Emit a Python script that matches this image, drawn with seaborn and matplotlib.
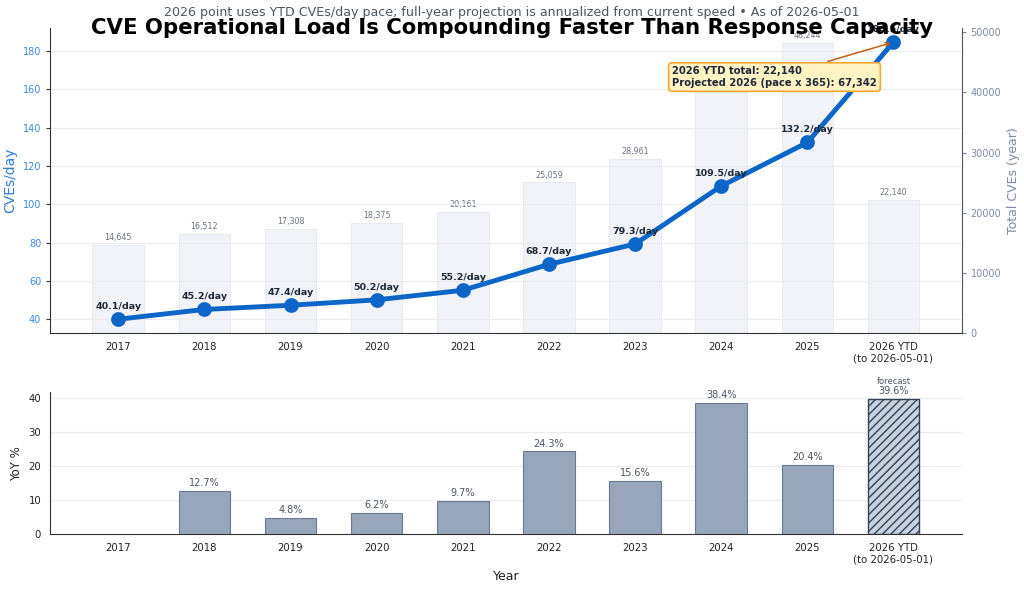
import numpy as np
import pandas as pd
import matplotlib
matplotlib.use("Agg")
import matplotlib.pyplot as plt
import seaborn as sns

# ---- data ----
years = ["2017", "2018", "2019", "2020", "2021", "2022", "2023", "2024", "2025",
         "2026 YTD\n(to 2026-05-01)"]
per_day = [40.1, 45.2, 47.4, 50.2, 55.2, 68.7, 79.3, 109.5, 132.2, 184.5]
totals = [14645, 16512, 17308, 18375, 20161, 25059, 28961, 40077, 48244, 22140]
yoy = [np.nan, 12.7, 4.8, 6.2, 9.7, 24.3, 15.6, 38.4, 20.4, 39.6]
ytd_total = 22140
projected = 67342

title = "CVE Operational Load Is Compounding Faster Than Response Capacity"
subtitle = ("2026 point uses YTD CVEs/day pace; full-year projection is annualized "
            "from current speed \u2022 As of 2026-05-01")

df = pd.DataFrame({"year": years, "per_day": per_day, "total": totals, "yoy": yoy})

sns.set_style("white")
plt.rcParams["font.family"] = ["DejaVu Sans"]

fig = plt.figure(figsize=(10.24, 5.89), dpi=100)
gs = fig.add_gridspec(2, 1, height_ratios=[305, 142], hspace=0.265,
                      left=0.049, right=0.939, top=0.952, bottom=0.093)
ax = fig.add_subplot(gs[0])
axb = fig.add_subplot(gs[1])
ax2 = ax.twinx()

TICK = 7

# ---- top: totals bars on right axis ----
sns.barplot(data=df, x="year", y="total", ax=ax2, color="#f1f3f8", width=0.6,
            edgecolor="#e4e7ee", linewidth=0.6, saturation=1)
ax2.bar_label(ax2.containers[0], labels=[f"{v:,}" for v in totals], fontsize=5.8,
              color="#6b7280", padding=2)
ax2.set_ylabel("Total CVEs (year)", color="#7b8ba5", fontsize=9)
ax2.tick_params(axis="y", colors="#7b8ba5", labelsize=TICK, length=3)
for s in ["top", "left", "bottom"]:
    ax2.spines[s].set_visible(False)
ax2.spines["right"].set_color("#555555")

# ---- top: per-day line on left axis ----
ax.set_zorder(ax2.get_zorder() + 1)
ax.patch.set_visible(False)
sns.pointplot(data=df, x="year", y="per_day", ax=ax, color="#0b66c8",
              markers="o", markersize=8, linewidth=3.5)
ax.margins(y=0.05)
ax.set_xlim(-0.79, 9.79)
for i, v in enumerate(per_day):
    ax.annotate(f"{v}/day", (i, v), xytext=(0, 6), textcoords="offset points",
                ha="center", va="bottom", fontsize=6.8, fontweight="bold",
                color="#1f2937")
ax.set_ylabel("CVEs/day", color="#2f7fd3", fontsize=10)
ax.set_xlabel("")
ax.tick_params(axis="y", colors="#3b88dc", labelsize=TICK)
ax.tick_params(axis="x", labelsize=TICK + 0.3, colors="#222222")
ax.set_yticks([40, 60, 80, 100, 120, 140, 160, 180])
ax.grid(axis="y", color="#ececee", linewidth=0.8)
ax.spines["top"].set_visible(False)
ax.spines["right"].set_visible(False)
ax.spines["left"].set_color("#333333")
ax.spines["bottom"].set_color("#333333")
ax.tick_params(axis="both", which="both", length=3, color="#333333")

ax.annotate(f"2026 YTD total: {ytd_total:,}\nProjected 2026 (pace x 365): {projected:,}",
            xy=(9, per_day[-1]), xytext=(6.43, 166.3), textcoords="data",
            ha="left", va="center", fontsize=7.2, fontweight="bold", color="#1f2937",
            bbox=dict(boxstyle="round,pad=0.35", fc="#fff3c4", ec="#f0a830", lw=1.2),
            arrowprops=dict(arrowstyle="->", color="#c0601a", lw=1.1), zorder=5)

# ---- bottom: YoY bars ----
sns.barplot(data=df, x="year", y="yoy", ax=axb, color="#97a6ba", width=0.6,
            edgecolor="#6b7a90", linewidth=0.8, saturation=1)
axb.set_xlim(-0.79, 9.79)
bars = [p for p in axb.patches if np.isfinite(p.get_height())]
last = max(bars, key=lambda p: p.get_x())
last.set_facecolor("#c7d2e0")
last.set_hatch("////")
last.set_edgecolor("#334155")
last.set_linewidth(1.0)
for i, v in enumerate(yoy):
    if np.isfinite(v):
        axb.annotate(f"{v}%", (i, v), xytext=(0, 2), textcoords="offset points",
                     ha="center", va="bottom", fontsize=7, color="#4b5563")
axb.annotate("forecast", (9, yoy[-1]), xytext=(0, 9.5), textcoords="offset points",
             ha="center", va="bottom", fontsize=6, color="#4b5563")
axb.set_ylabel("YoY %", fontsize=8.5, color="#222222")
axb.set_xlabel("Year", fontsize=9, color="#222222")
axb.tick_params(axis="both", labelsize=TICK + 0.3, colors="#222222", length=3)
axb.set_yticks([0, 10, 20, 30, 40])
axb.grid(axis="y", color="#ececee", linewidth=0.8)
axb.set_axisbelow(True)
axb.spines["top"].set_visible(False)
axb.spines["right"].set_visible(False)
axb.spines["left"].set_color("#333333")
axb.spines["bottom"].set_color("#333333")

fig.text(0.5, 0.979, subtitle, ha="center", va="center", fontsize=9.1, color="#4b5563")
fig.text(0.5, 0.952, title, ha="center", va="center", fontsize=15.3,
         fontweight="bold", color="#000000")

fig.savefig("out.png", dpi=100)
